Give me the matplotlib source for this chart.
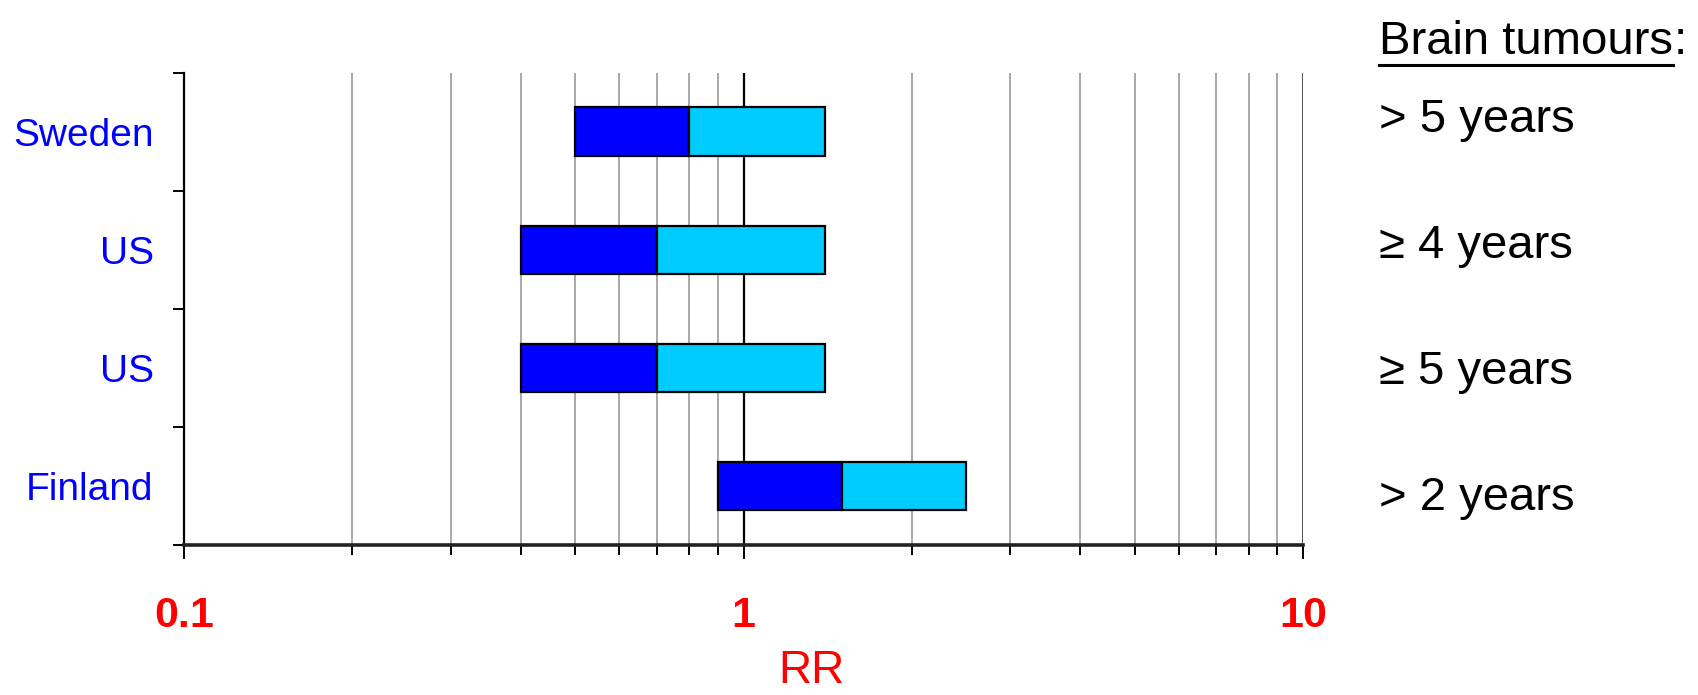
import matplotlib
matplotlib.use('Agg')
import numpy as np
from matplotlib import pyplot as plt
from matplotlib.lines import Line2D
from matplotlib import transforms

plt.rcParams['font.family'] = ['Liberation Sans', 'DejaVu Sans']

# relative risk of brain tumours, with 95% confidence limits
countries = ['Sweden', 'US', 'US', 'Finland']
rr = [0.8, 0.7, 0.7, 1.5]
lower = [0.5, 0.4, 0.4, 0.9]
upper = [1.4, 1.4, 1.4, 2.5]
durations = ['> 5 years', '\u2265 4 years', '\u2265 5 years', '> 2 years']
xticks = [0.1, 1, 10]
xticklabels = ['0.1', '1', '10']

fig = plt.figure(figsize=(16.98, 6.95), dpi=100)
ax = fig.add_axes([0.1084, 0.2158, 0.7674 - 0.1084, 0.8955 - 0.2158])

n = len(countries)
ypos = np.arange(n)[::-1] + 0.5   # first country at the top

rr = np.array(rr)
lower = np.array(lower)
upper = np.array(upper)

ax.set_xscale('log')
ax.set_xlim(0.1, 10)
ax.set_ylim(0, n)

# vertical grid: grey at the minor decades, black at RR = 1
minor = [m * 10.0 ** e for e in (-1, 0) for m in range(2, 10)]
for v in minor:
    ax.axvline(v, color='#999999', lw=1.2, zorder=1)
ax.axvline(10, color='#555555', lw=1.4, zorder=1)
ax.axvline(1, color='black', lw=1.6, zorder=1)

bh = 0.41
ax.barh(ypos, rr - lower, left=lower, height=bh, color='#0000FF',
        edgecolor='black', lw=1.6, zorder=3)
ax.barh(ypos, upper - rr, left=rr, height=bh, color='#00CCFF',
        edgecolor='black', lw=1.6, zorder=3)

# axes styling
for s in ('top', 'right'):
    ax.spines[s].set_visible(False)
ax.spines['left'].set_linewidth(1.6)
ax.spines['bottom'].set_linewidth(2.6)
ax.spines['bottom'].set_color('#222222')

ax.set_xticks(xticks)
ax.set_xticklabels(xticklabels, color='red', fontsize=31, fontweight='bold')
ax.set_xticks(minor, minor=True)
ax.xaxis.set_minor_formatter(matplotlib.ticker.NullFormatter())
ax.tick_params(axis='x', which='major', direction='out', length=10, width=1.4, pad=27)
ax.tick_params(axis='x', which='minor', direction='out', length=7, width=1.4)

ax.set_yticks(np.arange(n + 1))
ax.set_yticklabels([])
ax.set_yticks(ypos, minor=True)
ax.set_yticklabels(countries, minor=True, color='#0000FF', fontsize=28)
ax.tick_params(axis='y', which='major', direction='out', length=8, width=1.4)
ax.tick_params(axis='y', which='minor', length=0, pad=22)

# axis title sits right of centre, at the bottom of the figure
tr = transforms.blended_transform_factory(ax.transAxes, fig.transFigure)
ax.text(0.561, 2.0 / 695, 'RR', transform=tr, color='red', fontsize=33,
        ha='center', va='bottom')

# exposure duration labels on the right
for i, d in enumerate(durations):
    ax.text(1.068, 0.9 - i * (0.8 / (n - 1)), d, transform=ax.transAxes,
            fontsize=34, ha='left', va='center')

title = ax.text(1.068, 1.064, 'Brain tumours', transform=ax.transAxes,
                fontsize=34, ha='left', va='center')
fig.canvas.draw()
bb = title.get_window_extent().transformed(fig.transFigure.inverted())
fig.text(bb.x1, (bb.y0 + bb.y1) / 2, ':', fontsize=34, ha='left', va='center')
uy = 1 - 65 / 695.0
fig.add_artist(Line2D([bb.x0, bb.x1], [uy, uy], color='black', lw=2.2,
                      transform=fig.transFigure))

fig.savefig('out.png', dpi=100)
